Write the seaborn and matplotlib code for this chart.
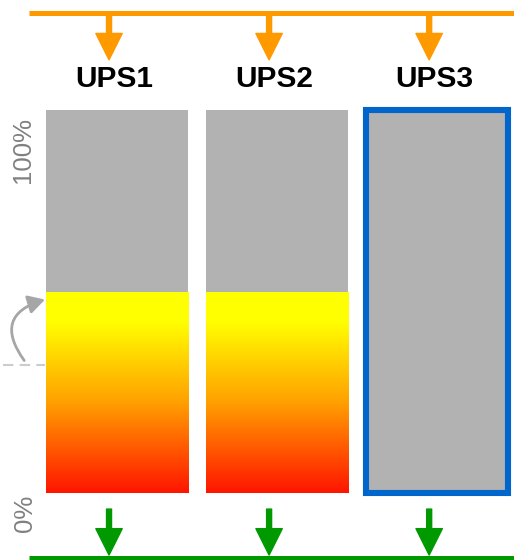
import numpy as np
import matplotlib
matplotlib.use("Agg")
import matplotlib.pyplot as plt
from matplotlib.colors import LinearSegmentedColormap
from matplotlib.patches import FancyArrowPatch
import seaborn as sns

# data
units = ["UPS1", "UPS2", "UPS3"]
capacity = [100, 100, 100]
load = [52.5, 52.5, 0]
threshold = 33.4
tick_labels = ["0%", "100%"]

GRAY = "#B2B2B2"
ORANGE = "#FF9900"
GREEN = "#009900"
BLUE = "#0066CC"

sns.set_style("white")
plt.rcParams["font.family"] = ["Liberation Sans", "DejaVu Sans"]

fig = plt.figure(figsize=(5.14, 5.6), dpi=100)
ax = fig.add_axes([37 / 514, 67 / 560, 477 / 514, 383 / 560])

# full capacity (gray) bars, then the load bars on top
sns.barplot(x=units, y=capacity, color=GRAY, saturation=1, width=0.89, ax=ax)
sns.barplot(x=units, y=load, color=GRAY, saturation=1, width=0.89, ax=ax)

cmap = LinearSegmentedColormap.from_list(
    "load", [(0, "#FF1500"), (0.45, "#FFA000"), (0.85, "#FFFF00"), (1, "#FFFF00")])
grad = np.linspace(0, 1, 256).reshape(-1, 1)

for p in ax.patches[:3]:
    p.set_linewidth(0)

for p in ax.patches[3:]:
    h = p.get_height()
    p.set_facecolor("none")
    p.set_linewidth(0)
    if h <= 0:
        continue
    x0, w = p.get_x(), p.get_width()
    im = ax.imshow(grad, extent=[x0, x0 + w, 0, h], origin="lower", cmap=cmap,
                   aspect="auto", zorder=3)
    im.set_clip_path(p)

# selected unit (no load) gets a blue frame
frame = ax.patches[2]
frame.set_edgecolor(BLUE)
frame.set_linewidth(4.4)
frame.set_clip_on(False)
frame.set_zorder(4)

ax.set_xlim(-0.5, 2.48)
ax.set_ylim(0, 100)
ax.axis("off")

# input bus (orange) and output bus (green)
ax.plot([-0.55, 2.48], [125.2, 125.2], color=ORANGE, lw=3.6,
        solid_capstyle="butt", clip_on=False)
ax.plot([-0.55, 2.48], [-16.9, -16.9], color=GREEN, lw=3.6,
        solid_capstyle="butt", clip_on=False)

style = "simple,head_length=19,head_width=19,tail_width=3.6"
for i, name in enumerate(units):
    ax.add_patch(FancyArrowPatch((i - 0.05, 125.2), (i - 0.05, 113.1), arrowstyle=style,
                                 mutation_scale=1, color=ORANGE, shrinkA=0, shrinkB=0,
                                 clip_on=False))
    ax.add_patch(FancyArrowPatch((i - 0.05, -4.2), (i - 0.05, -16.2), arrowstyle=style,
                                 mutation_scale=1, color=GREEN, shrinkA=0, shrinkB=0,
                                 clip_on=False))
    ax.text(i - 0.015, 108.0, name, ha="center", va="center", fontsize=21.5,
            fontweight="bold", color="black", clip_on=False)

# axis hints on the left
ax.text(-0.585, 89.6, tick_labels[1], rotation=90, ha="center", va="center",
        fontsize=18.5, color="#808080", clip_on=False)
ax.text(-0.575, -5.2, tick_labels[0], rotation=90, ha="center", va="center",
        fontsize=18.5, color="#808080", clip_on=False)

ax.plot([-0.715, -0.45], [threshold, threshold], color="#CCCCCC", lw=1.5,
        ls=(0, (5, 3)), clip_on=False)
ax.add_patch(FancyArrowPatch((-0.58, threshold + 1.2), (-0.45, load[0] - 2),
                             connectionstyle="arc3,rad=-0.7",
                             arrowstyle="-|>,head_length=0.5,head_width=0.28",
                             mutation_scale=20, color="#A6A6A6", lw=2,
                             shrinkA=0, shrinkB=0, clip_on=False))

fig.savefig("out.png", dpi=100)
